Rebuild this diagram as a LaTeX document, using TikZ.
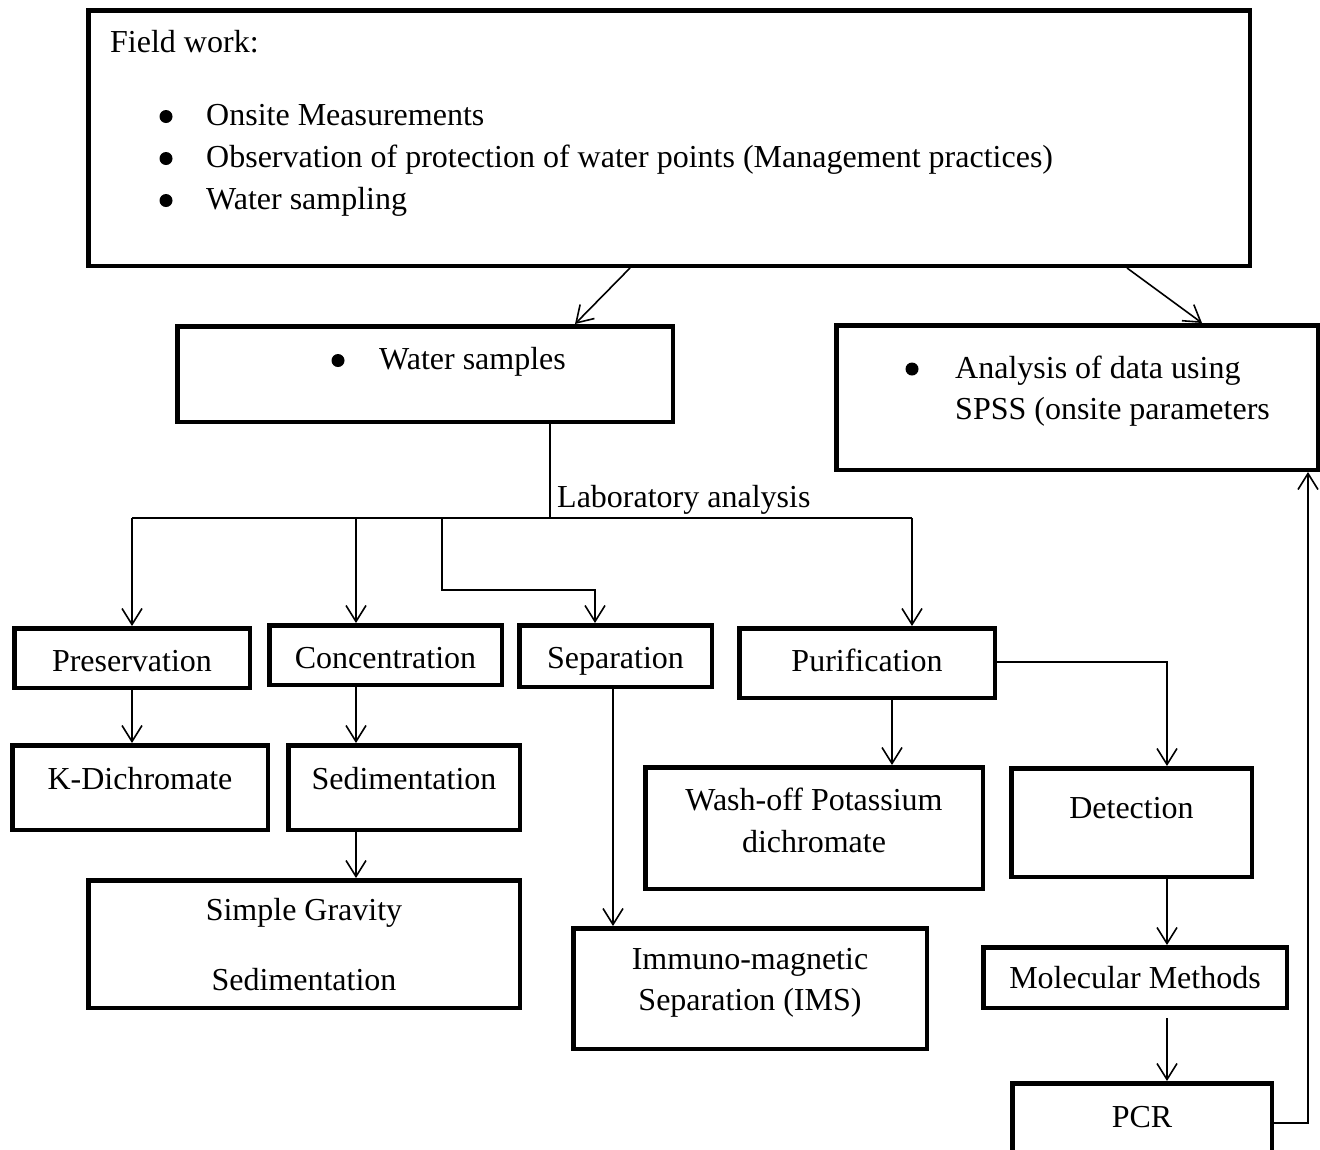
\documentclass[tikz,border=0pt]{standalone}
\usepackage{fontspec}
\setmainfont{Liberation Serif}
\usetikzlibrary{arrows.meta}
\begin{document}
\begin{tikzpicture}[x=1pt,y=-1pt,
  box/.style={draw, line width=4.5pt, inner sep=0pt},
  txt/.style={inner sep=0pt, font=\fontsize{32}{40}\selectfont},
  bul/.style={circle, fill, inner sep=0pt, minimum size=13pt},
  conn/.style={line width=1.6pt},
  arr/.style={conn, -{Straight Barb[length=16pt,width=20pt]}}]
\clip (0,0) rectangle (1320,1149);
\fill[white] (0,0) rectangle (1320,1149);
% boxes
\node[box, minimum width=1161.5pt, minimum height=255.5pt] (top) at (669,138) {};
\node[box, minimum width=495.5pt, minimum height=95.5pt] (ws) at (425,374) {};
\node[box, minimum width=481.5pt, minimum height=144.5pt] (an) at (1077,397.5) {};
\node[box, minimum width=235.5pt, minimum height=59.5pt] (pres) at (132,658) {};
\node[box, minimum width=232.5pt, minimum height=59.5pt] (conc) at (385.5,655) {};
\node[box, minimum width=192.5pt, minimum height=61.5pt] (sep) at (615.5,656) {};
\node[box, minimum width=255.5pt, minimum height=69.5pt] (pur) at (867,663) {};
\node[box, minimum width=255.5pt, minimum height=84.5pt] (kd) at (140,787.5) {};
\node[box, minimum width=231.5pt, minimum height=84.5pt] (sed) at (404,787.5) {};
\node[box, minimum width=431.5pt, minimum height=127.5pt] (sg) at (304,944) {};
\node[box, minimum width=353.5pt, minimum height=120.5pt] (ims) at (750,988.5) {};
\node[box, minimum width=337.5pt, minimum height=121.5pt] (wash) at (814,828) {};
\node[box, minimum width=240.5pt, minimum height=108.5pt] (det) at (1131.5,822.5) {};
\node[box, minimum width=303.5pt, minimum height=60.5pt] (mol) at (1135,977.5) {};
\node[box, minimum width=259.5pt, minimum height=84.5pt] (pcr) at (1142,1125.5) {};
% texts
\node[txt, anchor=base west] (t0) at (110,52) {Field work:};
\node[bul] (b1) at (166,116.5) {};
\node[bul] (b2) at (166,158.5) {};
\node[bul] (b3) at (166,200.5) {};
\node[txt, anchor=base west] (t1) at (206,125) {Onsite Measurements};
\node[txt, anchor=base west] (t2) at (206,167) {Observation of protection of water points (Management practices)};
\node[txt, anchor=base west] (t3) at (206,209) {Water sampling};
\node[bul] (b4) at (338,360.5) {};
\node[txt, anchor=base west] (tws) at (379,369) {Water samples};
\node[bul] (b5) at (912,369) {};
\node[txt, anchor=base west] (tan1) at (955,378) {Analysis of data using};
\node[txt, anchor=base west] (tan2) at (955,419) {SPSS (onsite parameters};
\node[txt, anchor=base west] (tlab) at (557,507) {Laboratory analysis};
\node[txt, anchor=base] (tpres) at (132,671) {Preservation};
\node[txt, anchor=base] (tconc) at (385.5,668) {Concentration};
\node[txt, anchor=base] (tsep) at (615.5,668) {Separation};
\node[txt, anchor=base] (tpur) at (867,671) {Purification};
\node[txt, anchor=base] (tkd) at (140,789) {K-Dichromate};
\node[txt, anchor=base] (tsed) at (404,789) {Sedimentation};
\node[txt, anchor=base] (tsg1) at (304,920) {Simple Gravity};
\node[txt, anchor=base] (tsg2) at (304,990) {Sedimentation};
\node[txt, anchor=base] (tims1) at (750,969) {Immuno-magnetic};
\node[txt, anchor=base] (tims2) at (750,1010) {Separation (IMS)};
\node[txt, anchor=base] (twash1) at (814,810) {Wash-off Potassium};
\node[txt, anchor=base] (twash2) at (814,852) {dichromate};
\node[txt, anchor=base] (tdet) at (1131.5,818) {Detection};
\node[txt, anchor=base] (tmol) at (1135,988) {Molecular Methods};
\node[txt, anchor=base] (tpcr) at (1142,1127) {PCR};
% helper coordinates
\coordinate (x630) at (630,0);
\coordinate (x575) at (575,0);
\coordinate (x1127) at (1127,0);
\coordinate (x1202) at (1202,0);
\coordinate (j) at (550,518);
\coordinate (jl) at (132,518);
\coordinate (jc) at (356,518);
\coordinate (js) at (442,518);
\coordinate (js2) at (442,590);
\coordinate (js3) at (595,590);
\coordinate (jp) at (912,518);
\coordinate (x613) at (613,0);
\coordinate (x892) at (892,0);
\coordinate (pd) at (1167,662);
\coordinate (mgap) at (1167,1018);
\coordinate (pr) at (1308,1123);
% connectors
\draw[arr] (top.south -| x630) -- (ws.north -| x575);
\draw[arr] (top.south -| x1127) -- (an.north -| x1202);
\draw[conn] (ws.south -| j) -- (j);
\draw[conn] (jl) -- (jp);
\draw[arr] (jl) -- (pres.north -| jl);
\draw[arr] (jc) -- (conc.north -| jc);
\draw[arr] (js) -- (js2) -- (js3) -- (sep.north -| js3);
\draw[arr] (jp) -- (pur.north -| jp);
\draw[arr] (pres.south -| jl) -- (kd.north -| jl);
\draw[arr] (conc.south -| jc) -- (sed.north -| jc);
\draw[arr] (sed.south -| jc) -- (sg.north -| jc);
\draw[arr] (sep.south -| x613) -- (ims.north -| x613);
\draw[arr] (pur.south -| x892) -- (wash.north -| x892);
\draw[arr] (pur.east |- pd) -- (pd) -- (det.north -| pd);
\draw[arr] (det.south -| pd) -- (mol.north -| pd);
\draw[arr] (mgap) -- (pcr.north -| mgap);
\draw[arr] (pcr.east |- pr) -- (pr) -- (an.south -| pr);
\end{tikzpicture}
\end{document}
